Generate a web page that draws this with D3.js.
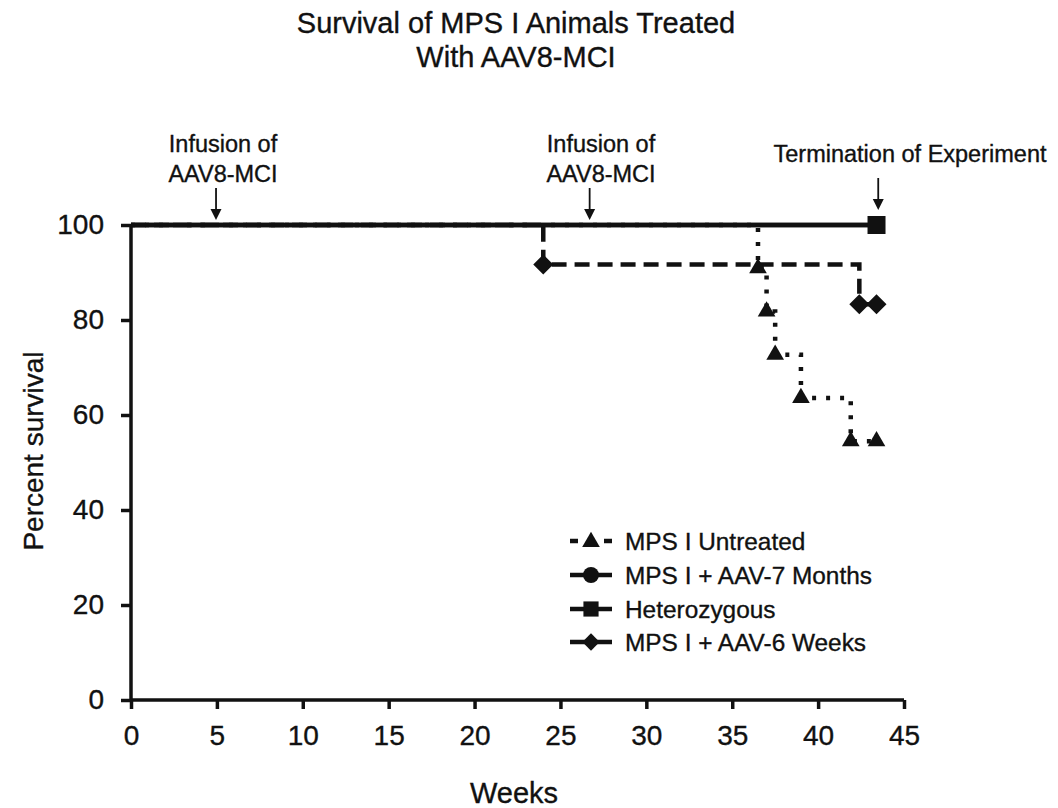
<!DOCTYPE html>
<html>
<head>
<meta charset="utf-8">
<script src="https://cdn.jsdelivr.net/npm/d3@7"></script>
<style>
  body { margin: 0; background: #fff; }
  svg { display: block; font-family: "Liberation Sans", Arial, sans-serif; }
  text { stroke: #111; stroke-width: 0.35px; }
</style>
</head>
<body>
<svg id="chart" width="1058" height="808"></svg>
<script>
// Kaplan–Meier survival steps (weeks, percent surviving)
const untreatedWeeks = [0, 36.5, 37, 37.5, 39, 41.9, 43.4];
const untreatedSurvival = [100, 90.9, 81.8, 72.7, 63.6, 54.5, 54.5];
const sevenMonthWeeks = [0, 43.4];
const sevenMonthSurvival = [100, 100];
const hetWeeks = [0, 43.4];
const hetSurvival = [100, 100];
const sixWeekWeeks = [0, 24, 42.4, 43.4];
const sixWeekSurvival = [100, 91.7, 83.3, 83.3];

const seriesNames = ["MPS I Untreated", "MPS I + AAV-7 Months", "Heterozygous", "MPS I + AAV-6 Weeks"];
const xTicks = [0, 5, 10, 15, 20, 25, 30, 35, 40, 45];
const yTicks = [0, 20, 40, 60, 80, 100];

// event annotations: week and label lines
const eventWeeks = [4.95, 26.7, 43.5];
const eventLabels = [["Infusion of", "AAV8-MCI"], ["Infusion of", "AAV8-MCI"], ["Termination of Experiment"]];

const svg = d3.select("#chart");
const ink = "#111";

const x = d3.scaleLinear().domain([0, 45]).range([131, 904]);
const y = d3.scaleLinear().domain([0, 100]).range([700, 225]);

// custom diamond, as wide as it is tall
const diamond = {
  draw(ctx, size) {
    const r = Math.sqrt(size / 2);
    ctx.moveTo(0, -r); ctx.lineTo(r, 0); ctx.lineTo(0, r); ctx.lineTo(-r, 0); ctx.closePath();
  }
};

// Title
svg.append("text").attr("x", 516).attr("y", 33).attr("text-anchor", "middle")
  .attr("font-size", 29).attr("fill", ink).text("Survival of MPS I Animals Treated");
svg.append("text").attr("x", 516).attr("y", 67).attr("text-anchor", "middle")
  .attr("font-size", 29).attr("fill", ink).text("With AAV8-MCI");

// Axes
const xAxis = d3.axisBottom(x).tickValues(xTicks).tickSize(9).tickPadding(16);
const yAxis = d3.axisLeft(y).tickValues(yTicks).tickSize(10).tickPadding(17);

const gx = svg.append("g").attr("transform", `translate(0,${y(0)})`).call(xAxis);
const gy = svg.append("g").attr("transform", `translate(${x(0)},0)`).call(yAxis);
[gx, gy].forEach(g => {
  g.select(".domain").attr("stroke", ink).attr("stroke-width", 3.5);
  g.selectAll(".tick line").attr("stroke", ink).attr("stroke-width", 3.5);
  g.selectAll(".tick text").attr("font-size", 28).attr("fill", ink)
    .attr("font-family", "'Liberation Sans', Arial, sans-serif");
});
gx.select(".domain").attr("d", `M${x(0)},0H${x(45)}`);
gy.select(".domain").attr("d", `M0,${y(0)}V${y(100)}`);

svg.append("text").attr("x", 514).attr("y", 803).attr("text-anchor", "middle")
  .attr("font-size", 29).attr("fill", ink).text("Weeks");
svg.append("text").attr("transform", `translate(43,451) rotate(-90)`)
  .attr("text-anchor", "middle").attr("font-size", 28).attr("fill", ink).text("Percent survival");

// Step lines
const stepLine = d3.line().x(d => x(d[0])).y(d => y(d[1])).curve(d3.curveStepAfter);
const zip = (a, b) => a.map((v, i) => [v, b[i]]);

const series = [
  { name: seriesNames[3], pts: zip(sixWeekWeeks, sixWeekSurvival), dash: "15,8", marker: diamond, size: 200 },
  { name: seriesNames[0], pts: zip(untreatedWeeks, untreatedSurvival), dash: "4,10", marker: d3.symbolTriangle, size: 135 },
  { name: seriesNames[1], pts: zip(sevenMonthWeeks, sevenMonthSurvival), dash: null, marker: d3.symbolCircle, size: 200 },
  { name: seriesNames[2], pts: zip(hetWeeks, hetSurvival), dash: null, marker: d3.symbolSquare, size: 324 }
];

series.forEach(s => {
  svg.append("path").datum(s.pts).attr("d", stepLine)
    .attr("fill", "none").attr("stroke", ink).attr("stroke-width", 4.5)
    .attr("stroke-dasharray", s.dash);
  svg.selectAll(null).data(s.pts.slice(1)).enter().append("path")
    .attr("d", d3.symbol().type(s.marker).size(s.size))
    .attr("transform", d => `translate(${x(d[0])},${y(d[1])})`)
    .attr("fill", ink);
});

// Event annotations with arrows
const labelX = [223, 601, 910];
eventWeeks.forEach((w, i) => {
  const ax = x(w);
  const lines = eventLabels[i];
  const lastY = lines.length === 2 ? 182 : 162;
  lines.forEach((t, j) => {
    svg.append("text").attr("x", labelX[i]).attr("y", lastY - (lines.length - 1 - j) * 30)
      .attr("text-anchor", "middle").attr("font-size", 23.5).attr("fill", ink).text(t);
  });
  const top = lines.length === 2 ? 188 : 178;
  const bot = lines.length === 2 ? 220 : 210;
  svg.append("line").attr("x1", ax).attr("x2", ax).attr("y1", top).attr("y2", bot - 8)
    .attr("stroke", ink).attr("stroke-width", 1.8);
  svg.append("path").attr("d", `M${ax - 5.5},${bot - 11}L${ax + 5.5},${bot - 11}L${ax},${bot}Z`).attr("fill", ink);
});

// Legend
const legendRows = [
  { name: seriesNames[0], marker: d3.symbolTriangle, size: 135, dashed: true },
  { name: seriesNames[1], marker: d3.symbolCircle, size: 200 },
  { name: seriesNames[2], marker: d3.symbolSquare, size: 230 },
  { name: seriesNames[3], marker: diamond, size: 150 }
];
const legY = [541, 575, 609, 642];
legendRows.forEach((r, i) => {
  const g = svg.append("g").attr("transform", `translate(570,${legY[i]})`);
  if (r.dashed) {
    g.append("line").attr("x1", 0).attr("x2", 8).attr("stroke", ink).attr("stroke-width", 4.5);
    g.append("line").attr("x1", 34).attr("x2", 42).attr("stroke", ink).attr("stroke-width", 4.5);
  } else {
    g.append("line").attr("x1", 0).attr("x2", 42).attr("stroke", ink).attr("stroke-width", 4.5);
  }
  g.append("path").attr("d", d3.symbol().type(r.marker).size(r.size))
    .attr("transform", `translate(21,${r.marker === d3.symbolTriangle ? 1 : 0})`)
    .attr("fill", ink);
  g.append("text").attr("x", 55).attr("y", 8.5).attr("font-size", 24.4).attr("fill", ink).text(r.name);
});
</script>
</body>
</html>
